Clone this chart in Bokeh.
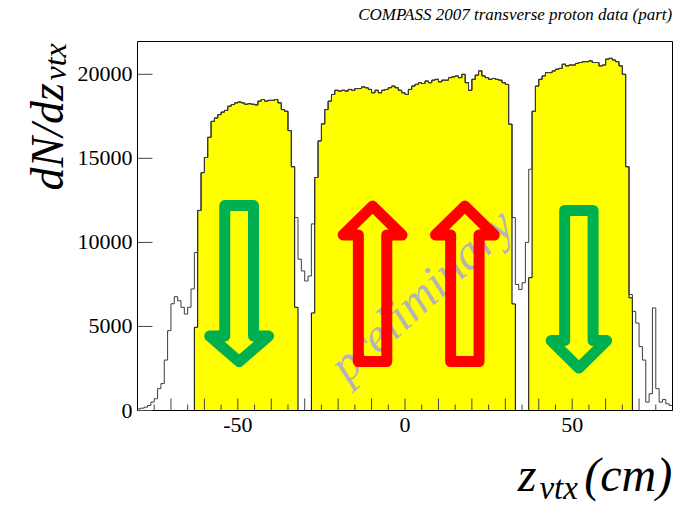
import math
import numpy as np
from bokeh.plotting import figure
from bokeh.models import Range1d
from bokeh.core.properties import value
from bokeh.embed import file_html
from bokeh.resources import INLINE

# ---- vertex histogram: 1 cm bins from -80 cm to +80 cm ----
bin_lo = -80.0
bin_width = 1.0

# all reconstructed vertices (entries per bin), z = -80 ... 79 cm (bin low edge)
counts_all = [
    100, 140, 200, 300, 500, 700, 1300, 1600, 3000, 4750,            # -80 .. -71
    6350, 6770, 6530, 6140, 5740, 6140, 7230, 9400, 11900, 14150,     # -70 .. -61
    15050, 16250, 17200, 17400, 17600, 17750, 17850, 18100, 18200, 18300,  # -60 .. -51
    18350, 18300, 18220, 18250, 18220, 18180, 18400, 18500, 18400, 18450,  # -50 .. -41
    18450, 18500, 18300, 17900, 17800, 16650, 14500, 11480, 9000, 8300,    # -40 .. -31
    7700, 8000, 11100, 13860, 16040, 17050, 17900, 18400, 18800, 19050,    # -30 .. -21
    19000, 19050, 19000, 19100, 19050, 19150, 19150, 19250, 19200, 19100,  # -20 .. -11
    18900, 19050, 18900, 19050, 19100, 19200, 19300, 19200, 19050, 18900,  # -10 .. -1
    18800, 19100, 19300, 19400, 19500, 19450, 19600, 19500, 19650, 19700,  # 0 .. 9
    19550, 19650, 19650, 19800, 19850, 19900, 19800, 20000, 19500, 19050,  # 10 .. 19
    19700, 19950, 20200, 19900, 19800, 19700, 19750, 19700, 19650, 19500,  # 20 .. 29
    19400, 17030, 11480, 7500, 7200, 7600, 10000, 14350, 17800, 19300,    # 30 .. 39
    19700, 19900, 20100, 20100, 20200, 20300, 20350, 20600, 20500, 20550,  # 40 .. 49
    20550, 20650, 20700, 20750, 20750, 20800, 20700, 20700, 20500, 20550,  # 50 .. 59
    20900, 20950, 20850, 20750, 20500, 20000, 14500, 6900, 5900, 5200,     # 60 .. 69
    3800, 3000, 500, 1000, 6100, 1300, 500, 650, 400, 300,                 # 70 .. 79
]

# target cells kept by the vertex cut: first and last bin (low edge, cm)
cell_first_bin = [-63, -28, 37]
cell_last_bin = [-33, 32, 67]
# the cut splits the boundary bins, so they hold only part of the entries
cut_first_counts = [4950, 5800, 7900]
cut_last_counts = [6140, 6340, 6700]

# axis ranges and ticks
x_min, x_max = -80.0, 80.0
y_min, y_max = 0.0, 21950.0
y_ticks = [0, 5000, 10000, 15000, 20000]
y_tick_labels = ["0", "5000", "10000", "15000", "20000"]
x_major_ticks = list(range(-70, 71, 10))
x_minor_ticks = list(range(-75, 76, 10))
x_label_ticks = [-50, 0, 50]
x_tick_labels = ["-50", "0", "50"]

title_text = "COMPASS 2007 transverse proton data (part)"
watermark_text = "preliminary"

# polarisation arrows: centre x, shaft / head half widths (cm), tail, head base, tip (entries)
arrows = [
    dict(xc=-49.6, shaft=4.3, head=8.8, tail=12190, base=4430, tip=2910, color="#00b050"),
    dict(xc=-9.7, shaft=4.25, head=8.8, tail=2910, base=10440, tip=12160, color="#ff0000"),
    dict(xc=17.9, shaft=4.25, head=8.8, tail=2910, base=10440, tip=12160, color="#ff0000"),
    dict(xc=52.0, shaft=4.25, head=8.3, tail=11900, base=4160, tip=2530, color="#00b050"),
]

SERIF = "Liberation Serif"

# page layout: the histogram box sits inside a 677 x 505 canvas
W, H = 677, 505
box_left, box_right, box_top, box_bottom = 137, 672, 41, 410  # pixels
sx = (x_max - x_min) / (box_right - box_left)   # cm per pixel
sy = (y_max - y_min) / (box_bottom - box_top)   # entries per pixel
x_range = Range1d(x_min - box_left * sx, x_max + (W - box_right) * sx)
y_range = Range1d(y_min - (H - box_bottom) * sy, y_max + box_top * sy)

n_bins = len(counts_all)
edges = bin_lo + bin_width * np.arange(n_bins + 1)


def step_outline(lo_edges, vals):
    """Closed step outline of a histogram segment (down to zero at both ends)."""
    xs = np.repeat(lo_edges, 2)
    ys = np.concatenate([[0.0], np.repeat(np.asarray(vals, dtype=float), 2), [0.0]])
    return xs, ys


p = figure(width=W, height=H, output_backend="svg", toolbar_location=None,
           x_range=x_range, y_range=y_range, min_border=0)
p.axis.visible = False
p.grid.visible = False
p.outline_line_color = None
p.background_fill_color = "white"
p.border_fill_color = "white"

# yellow: vertices inside the three target cells
for first, last, c_first, c_last in zip(cell_first_bin, cell_last_bin,
                                        cut_first_counts, cut_last_counts):
    i0 = int(round((first - bin_lo) / bin_width))
    i1 = int(round((last - bin_lo) / bin_width))
    vals = list(counts_all[i0:i1 + 1])
    vals[0] = c_first
    vals[-1] = c_last
    xs, ys = step_outline(edges[i0:i1 + 2], vals)
    p.patch(xs, ys, fill_color="#ffff00", line_color="black", line_width=1)

# full vertex distribution
xs, ys = step_outline(edges, counts_all)
p.line(xs, ys, line_color="#3c3c3c", line_width=1)

# watermark
p.text(x=[-20.5], y=[2300], text=[watermark_text], angle=0.74,
       text_font=value(SERIF), text_font_style="italic",
       text_font_size=value("49px"), text_color="#b4b4b4",
       text_align="left", text_baseline="alphabetic")

# hollow block arrows
for a in arrows:
    xc, s, h = a["xc"], a["shaft"], a["head"]
    ax = [xc - s, xc + s, xc + s, xc + h, xc, xc - h, xc - s]
    ay = [a["tail"], a["tail"], a["base"], a["base"], a["tip"], a["base"], a["base"]]
    p.patch(ax, ay, fill_alpha=0, line_color=a["color"], line_width=11,
            line_join="round")

# frame and inward ticks
p.quad(left=[x_min], right=[x_max], bottom=[y_min], top=[y_max],
       fill_alpha=0, line_color="black", line_width=1)
tick_color = "#444444"
p.segment(x0=x_major_ticks, y0=[y_min] * len(x_major_ticks),
          x1=x_major_ticks, y1=[y_min + 12 * sy] * len(x_major_ticks),
          line_color=tick_color, line_width=1)
p.segment(x0=x_minor_ticks, y0=[y_min] * len(x_minor_ticks),
          x1=x_minor_ticks, y1=[y_min + 6 * sy] * len(x_minor_ticks),
          line_color=tick_color, line_width=1)
p.segment(x0=[x_min] * len(y_ticks), y0=y_ticks,
          x1=[x_min + 15 * sx] * len(y_ticks), y1=y_ticks,
          line_color=tick_color, line_width=1)

# tick labels
p.text(x=x_label_ticks, y=[y_min] * len(x_label_ticks), text=x_tick_labels,
       y_offset=7, text_font=value(SERIF), text_font_size=value("22px"),
       text_color="black", text_align="center", text_baseline="top")
p.text(x=[x_min] * len(y_ticks), y=y_ticks, text=y_tick_labels,
       x_offset=-5, text_font=value(SERIF), text_font_size=value("22px"),
       text_color="black", text_align="right", text_baseline="middle")


# header and axis titles (italic serif, with subscripts); (x, y) is the
# start of the baseline, placed via the middle of the em box
def italic(x, y, text, size, align="left", vertical=False):
    shift = -0.3375 * size
    p.text(x=[x], y=[y], text=[text], angle=math.pi / 2 if vertical else 0.0,
           x_offset=shift if vertical else 0, y_offset=0 if vertical else shift,
           text_font=value(SERIF), text_font_style="italic",
           text_font_size=value(f"{size}px"), text_color="black",
           text_align=align, text_baseline="middle")


italic(x_max - 0.1, y_max + 21 * sy, title_text, 17, align="right")
italic(33.7, -80 * sy, "z", 48)
italic(40.2, -89 * sy, "vtx", 33)
italic(x_max - 0.1, -80 * sy, "(cm)", 48, align="right")
italic(-102.4, 13090, "dN/dz", 46, vertical=True)
italic(-101.5, 19630, "vtx", 32, vertical=True)

open("out.html", "w").write(file_html(p, INLINE))
